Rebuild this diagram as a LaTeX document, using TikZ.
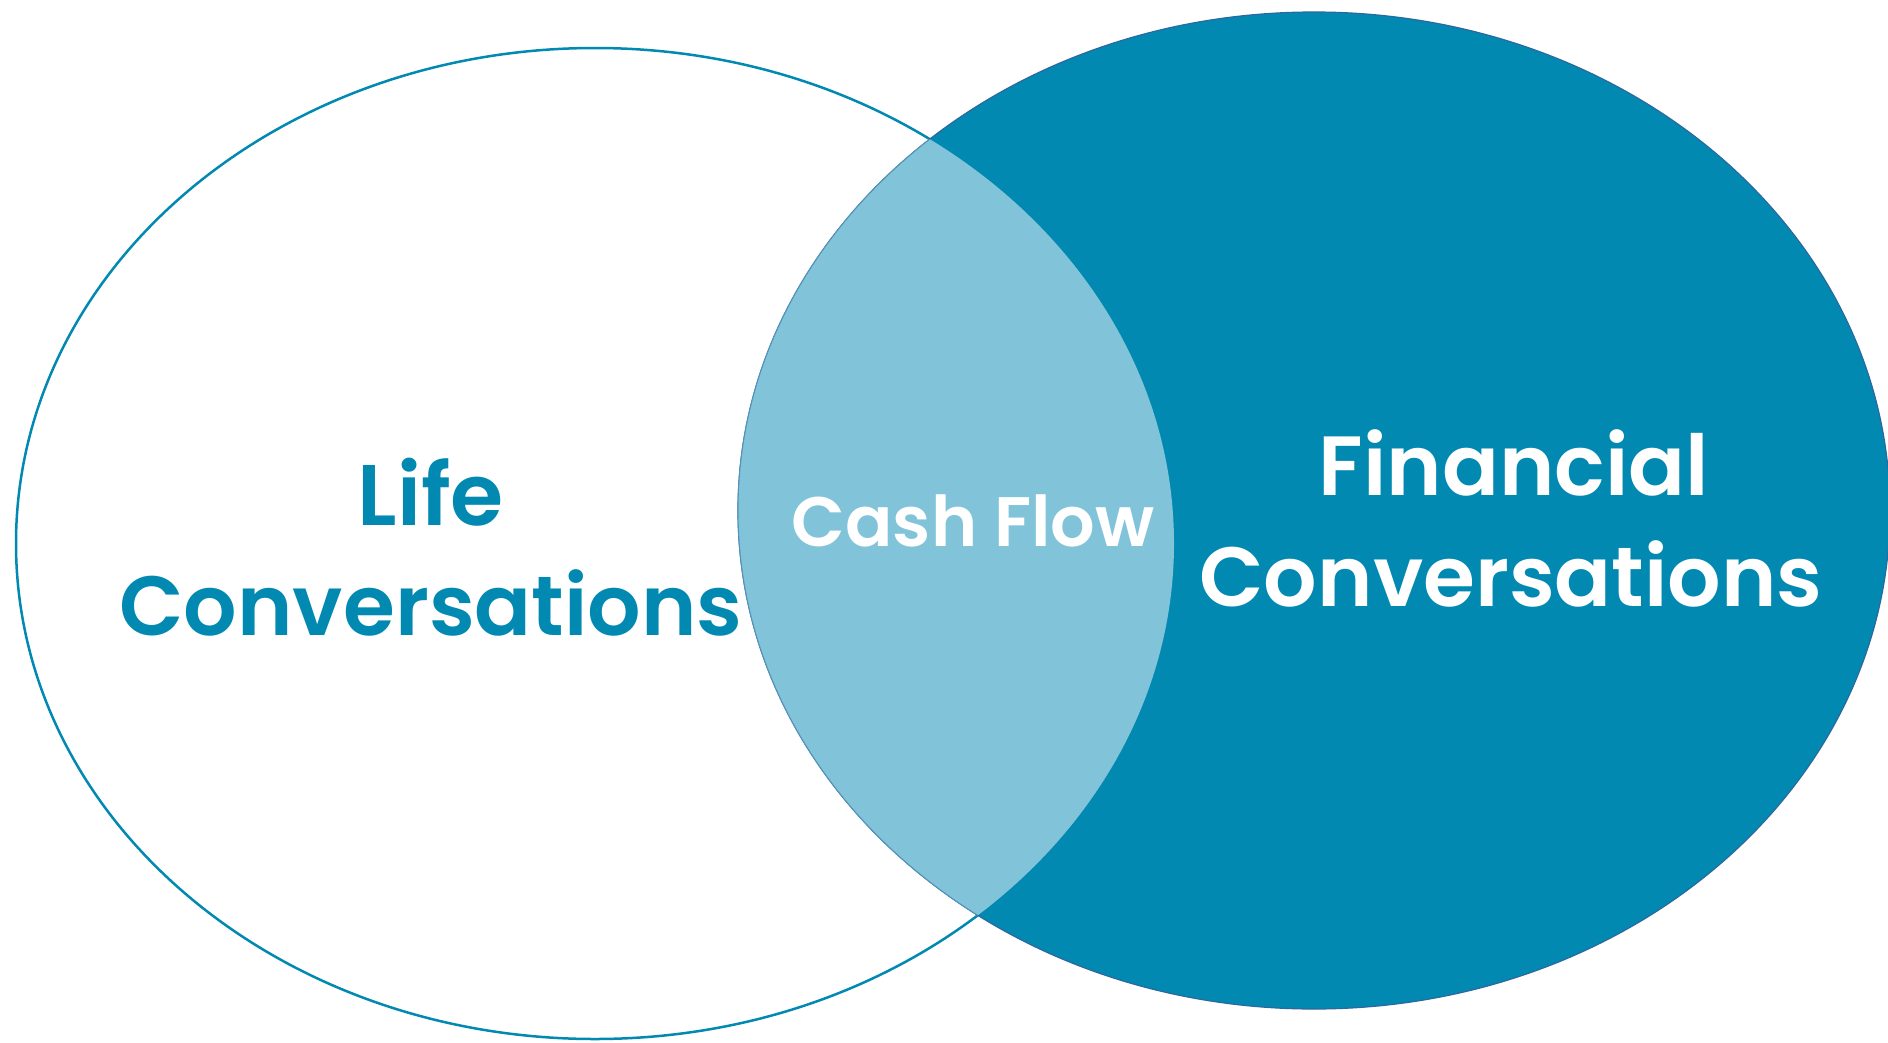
\documentclass[tikz,border=0pt]{standalone}
\usepackage{fontspec}
\setmainfont{Poppins}[BoldFont={Poppins SemiBold}]
\definecolor{teal}{RGB}{2,137,178}
\definecolor{lensblue}{RGB}{129,195,217}
\definecolor{rimblue}{RGB}{42,104,158}
\begin{document}
\begin{tikzpicture}[x=1pt,y=-1pt,
  label/.style={font=\fontsize{84}{110}\selectfont\bfseries, align=center, inner sep=0pt},
  darklabel/.style={label, text=teal},
  lightlabel/.style={label, text=white}]
\useasboundingbox (0,0) rectangle (1888,1042);
\fill[white] (0,0) rectangle (1888,1042);
% left set: outline only
\draw[teal, line width=2.5pt] (595,543.5) ellipse [x radius=579, y radius=495.5];
% right set: solid fill with a thin rim
\fill[teal] (1314,510.5) ellipse [x radius=576, y radius=498.5];
\draw[rimblue, line width=1.2pt] (1314,510.5) ellipse [x radius=576, y radius=498.5];
% overlap
\begin{scope}
  \clip (595,543.5) ellipse [x radius=579, y radius=495.5];
  \fill[lensblue] (1314,510.5) ellipse [x radius=576, y radius=498.5];
  \draw[rimblue!50!lensblue, line width=1pt] (1314,510.5) ellipse [x radius=576, y radius=498.5];
\end{scope}
\node[darklabel, anchor=base, font=\fontsize{86}{110}\selectfont\bfseries] (life) at (431,525) {Life};
\node[darklabel, anchor=base, font=\fontsize{84}{110}\selectfont\bfseries] (lifeconv) at (431,635) {Conversations};
\node[lightlabel, anchor=base, font=\fontsize{70}{90}\selectfont\bfseries] (cash) at (973,546) {Cash Flow};
\node[lightlabel, anchor=base] (fin) at (1514,495) {Financial};
\node[lightlabel, anchor=base, font=\fontsize{84}{110}\selectfont\bfseries] (finconv) at (1511,606) {Conversations};
\end{tikzpicture}
\end{document}
